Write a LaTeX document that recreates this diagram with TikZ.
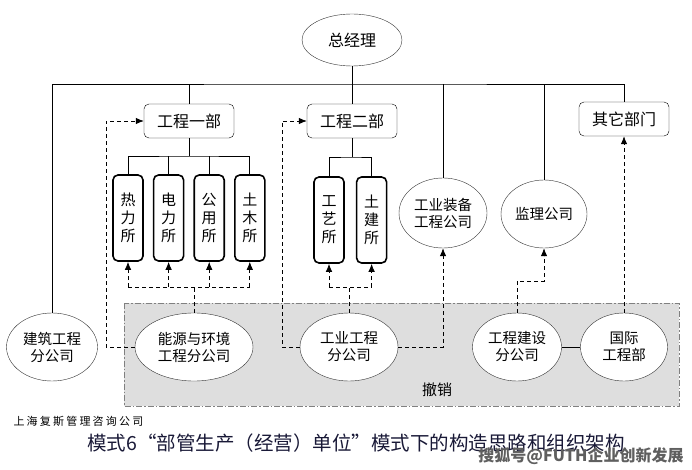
\documentclass[tikz,border=0pt]{standalone}
\usepackage{fontspec}
\setmainfont{Noto Sans CJK SC}
\newfontfamily\firmfont[LetterSpace=20]{Noto Sans CJK SC}
\usetikzlibrary{shapes.geometric,arrows.meta,positioning}
\definecolor{zonegray}{RGB}{222,222,222}
\definecolor{zoneedge}{RGB}{128,128,128}
\definecolor{titleink}{RGB}{25,25,55}
\definecolor{markshade}{RGB}{95,95,95}

\begin{document}
\begin{tikzpicture}[x=1pt,y=-1pt,
  dept/.style={rectangle,draw,rounded corners=5pt,minimum width=90pt,minimum height=34pt,font=\fontsize{16}{18}\selectfont},
  suo/.style={rectangle,draw,line width=1.6pt,rounded corners=5pt,minimum width=30pt,minimum height=86pt,inner sep=0pt,align=center,font=\fontsize{15}{18}\selectfont},
  org/.style={ellipse,draw=black!80,fill=white,inner sep=0pt,align=center,minimum height=68pt,font=\fontsize{14.5}{17}\selectfont},
  tree/.style={draw,line width=0.8pt},
  dline/.style={draw,line width=0.8pt,dash pattern=on 4pt off 3pt},
  link/.style={dline,-{Latex[length=8pt,width=6.5pt]}},
  zone/.style={fill=zonegray,draw=zoneedge,line width=0.8pt,dash pattern=on 6pt off 2pt on 1.5pt off 2pt},
  wmark/.style={font=\bfseries\fontsize{16}{18}\selectfont}]

  \useasboundingbox (0,0) rectangle (692,470);
  \draw[zone] (124,303) rectangle (679,406);

  \node[org,minimum width=100pt,minimum height=52pt,font=\fontsize{16}{18}\selectfont] (gm) at (352,40) {总经理};
  \node[dept] (ec1) at (189,121) {工程一部};
  \node[dept] (ec2) at (352,121) {工程二部};
  \node[dept] (qt) at (624,119) {其它部门};

  \node[suo] (rl) at (128,218) {热\\力\\所};
  \node[suo,right=9pt of rl] (dl) {电\\力\\所};
  \node[suo,right=9pt of dl] (gy) {公\\用\\所};
  \node[suo,right=9pt of gy] (tm) {土\\木\\所};
  \node[suo] (gyi) at (329,220) {工\\艺\\所};
  \node[suo,right=11pt of gyi] (tj) {土\\建\\所};

  \node[org,minimum width=88pt,minimum height=70pt] (zb) at (443,213) {工业装备\\工程公司};
  \node[org,minimum width=86pt] (jl) at (544,214) {监理公司};
  \node[org,minimum width=91pt] (jz) at (52,347) {建筑工程\\分公司};
  \node[org,minimum width=118pt] (ny) at (194,347) {能源与环境\\工程分公司};
  \node[org,minimum width=98pt] (gg) at (349,347) {工业工程\\分公司};
  \node[org,minimum width=89pt] (js) at (517,347) {工程建设\\分公司};
  \node[org,minimum width=87pt] (gj) at (624,347) {国际\\工程部};
  \node[font=\fontsize{15}{17}\selectfont] (cx) at (437,390) {撤销};

  \coordinate (bus) at (352,84);
  \draw[tree] (jz.north) |- (bus) -| (qt.north);
  \draw[tree] (gm.south) -- (ec2.north);
  \draw[tree] (ec1.north) -- (ec1.north |- bus);
  \draw[tree] (zb.north) -- (zb.north |- bus);
  \draw[tree] (jl.north) -- (jl.north |- bus);

  \coordinate (sb1) at (189,156);
  \draw[tree] (ec1.south) -- (sb1);
  \draw[tree] (rl.north) |- (sb1) -| (tm.north);
  \draw[tree] (dl.north) -- (dl.north |- sb1);
  \draw[tree] (gy.north) -- (gy.north |- sb1);
  \coordinate (sb2) at (352,157);
  \draw[tree] (ec2.south) -- (sb2);
  \draw[tree] (gyi.north) |- (sb2) -| (tj.north);

  \coordinate (db1) at (194,287);
  \draw[dline] (ny.north) -- (db1);
  \draw[dline] (rl.south |- db1) -- (tm.south |- db1);
  \draw[link] (rl.south |- db1) -- (rl.south);
  \draw[link] (dl.south |- db1) -- (dl.south);
  \draw[link] (gy.south |- db1) -- (gy.south);
  \draw[link] (tm.south |- db1) -- (tm.south);
  \coordinate (db2) at (349,287);
  \draw[dline] (gg.north) -- (db2);
  \draw[dline] (gyi.south |- db2) -- (tj.south |- db2);
  \draw[link] (gyi.south |- db2) -- (gyi.south);
  \draw[link] (tj.south |- db2) -- (tj.south);

  \coordinate (up1) at (106,121);
  \draw[link] (ny.west) -| (up1) -- (ec1.west);
  \coordinate (up2) at (282,121);
  \draw[link] (gg.west) -| (up2) -- (ec2.west);
  \draw[link] (gg.east) -| (zb.south);
  \coordinate (kn) at (544,281);
  \draw[link] (js.north) |- (kn) -- (jl.south);
  \draw[link] (gj.north) -- (qt.south);
  \draw[tree] (js) -- (gj);

  \node[font=\firmfont\fontsize{11}{13}\selectfont,anchor=west] (firm) at (10,421) {上海复斯管理咨询公司};
  \node[font=\fontsize{19.5}{22}\selectfont,text=titleink] (title) at (356,443) {模式6“部管生产（经营）单位”模式下的构造思路和组织架构};
  \node[wmark,text=markshade] (watermark) at (581,456) {搜狐号@FUTH企业创新发展};
\end{tikzpicture}
\end{document}
